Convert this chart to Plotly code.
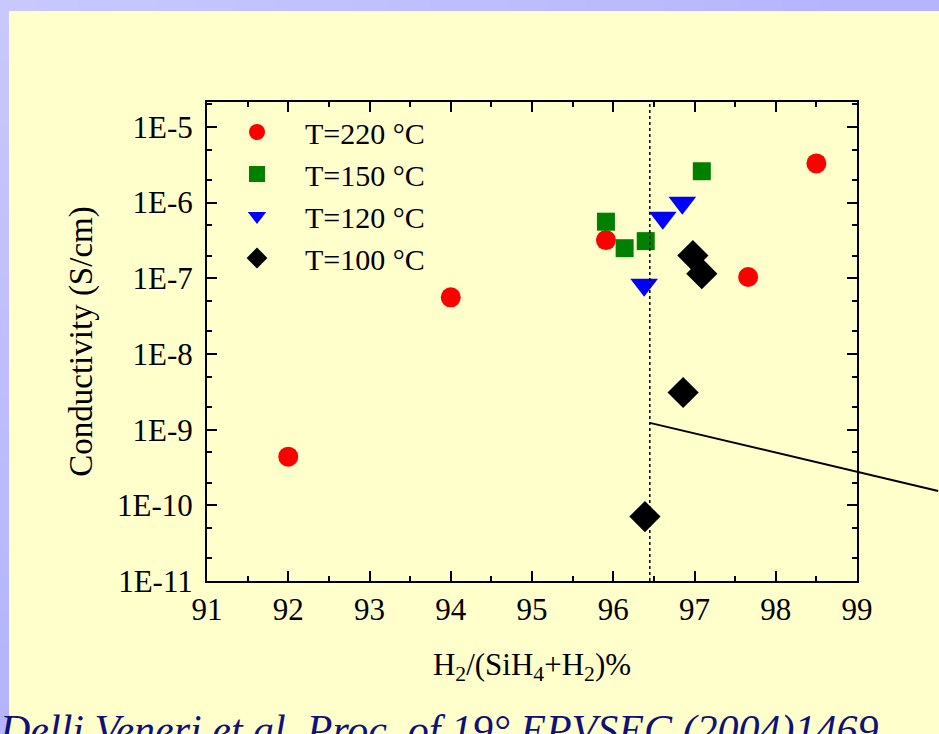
import math
import plotly.graph_objects as go

# H2 dilution (%) and dark conductivity (S/cm) for each deposition temperature
x_220 = [92.0, 94.0, 95.91, 97.66, 98.5]
y_220 = [4.4e-10, 5.6e-8, 3.2e-7, 1.04e-7, 3.3e-6]

x_150 = [95.91, 96.14, 96.4, 97.09]
y_150 = [5.6e-7, 2.5e-7, 3.1e-7, 2.6e-6]

x_120 = [96.38, 96.61, 96.85]
y_120 = [8.2e-8, 6.3e-7, 1.0e-6]

x_100 = [96.39, 96.86, 96.98, 97.09]
y_100 = [7.1e-11, 3.1e-9, 2.0e-7, 1.15e-7]

series_names = ["T=220 °C", "T=150 °C", "T=120 °C", "T=100 °C"]

# amorphous / microcrystalline transition threshold and the pointer line
threshold_x = 96.45
pointer_x = [96.45, 100.0]
pointer_y = [1.23e-9, 1.55e-10]

x_ticks = [91, 92, 93, 94, 95, 96, 97, 98, 99]
y_ticks = [1e-11, 1e-10, 1e-9, 1e-8, 1e-7, 1e-6, 1e-5]
y_tick_text = ["1E-11", "1E-10", "1E-9", "1E-8", "1E-7", "1E-6", "1E-5"]

X_RANGE = [91, 99]
Y_RANGE = [-11, -4.67]

W, H = 939, 734
M_L, M_R, M_T, M_B = 207, 82, 102, 153
PW, PH = W - M_L - M_R, H - M_T - M_B

SERIF = "Liberation Serif, Times New Roman, serif"
BG = "#FFFFCC"


def px_to_paper_x(px):
    return (px - M_L) / PW


def px_to_paper_y(py):
    return (H - M_B - py) / PH


def data_to_paper(xv, yv):
    px = (xv - X_RANGE[0]) / (X_RANGE[1] - X_RANGE[0])
    py = (math.log10(yv) - Y_RANGE[0]) / (Y_RANGE[1] - Y_RANGE[0])
    return px, py


fig = go.Figure()

styles = [
    (x_220, y_220, "circle", "#FF0000", 20),
    (x_150, y_150, "square", "#008000", 18),
    (x_120, y_120, "triangle-down", "#0000FF", 24),
    (x_100, y_100, "diamond", "#000000", 24),
]
for name, (xs, ys, sym, col, size) in zip(series_names, styles):
    fig.add_trace(go.Scatter(
        x=xs, y=ys, mode="markers", name=name,
        marker=dict(symbol=sym, color=col, size=size, line=dict(width=0)),
    ))

shapes = []

# lavender slide frame: top and left bands with a soft gradient
n_seg = 24
for i in range(n_seg):
    t = i / (n_seg - 1)
    r = int(200 - 20 * t)
    g = int(200 - 20 * t)
    shapes.append(dict(
        type="rect", xref="paper", yref="paper", layer="below",
        x0=px_to_paper_x(W * i / n_seg), x1=px_to_paper_x(W * (i + 1) / n_seg + 1),
        y0=px_to_paper_y(11), y1=px_to_paper_y(0),
        fillcolor=f"rgb({r},{g},255)", line=dict(width=0),
    ))
    shapes.append(dict(
        type="rect", xref="paper", yref="paper", layer="below",
        x0=px_to_paper_x(0), x1=px_to_paper_x(9),
        y0=px_to_paper_y(H * (i + 1) / n_seg + 1), y1=px_to_paper_y(H * i / n_seg),
        fillcolor=f"rgb({r},{g},255)", line=dict(width=0),
    ))

# dotted threshold line
shapes.append(dict(
    type="line", xref="x", yref="paper",
    x0=threshold_x, x1=threshold_x, y0=0, y1=1,
    line=dict(color="black", width=1.5, dash="dot"),
))

# pointer line running off the right edge
p0 = data_to_paper(pointer_x[0], pointer_y[0])
p1 = data_to_paper(pointer_x[1], pointer_y[1])
shapes.append(dict(
    type="line", xref="paper", yref="paper",
    x0=p0[0], y0=p0[1], x1=p1[0], y1=p1[1],
    line=dict(color="black", width=2),
))

annotations = [dict(
    text="Delli Veneri et al. Proc. of 19° EPVSEC (2004)1469",
    xref="paper", yref="paper",
    x=px_to_paper_x(-3), y=px_to_paper_y(705),
    xanchor="left", yanchor="top", showarrow=False,
    font=dict(family=SERIF, size=42, color="#10107A", style="italic"),
)]

axis_common = dict(
    showline=True, linecolor="black", linewidth=2, mirror="ticks",
    ticks="inside", ticklen=10, tickwidth=2, tickcolor="black",
    showgrid=False, zeroline=False,
    tickfont=dict(family=SERIF, size=31, color="black"),
)

fig.update_layout(
    width=W, height=H,
    margin=dict(l=M_L, r=M_R, t=M_T, b=M_B, pad=0),
    paper_bgcolor=BG, plot_bgcolor=BG,
    showlegend=True,
    legend=dict(
        x=px_to_paper_x(209), y=px_to_paper_y(106), xanchor="left", yanchor="top",
        bgcolor="rgba(0,0,0,0)", borderwidth=0,
        font=dict(family=SERIF, size=30, color="black"),
        itemwidth=86, tracegroupgap=0,
    ),
    xaxis=dict(
        **axis_common, range=X_RANGE, tickvals=x_ticks,
        minor=dict(ticks="inside", ticklen=5, tickwidth=2, tickcolor="black", dtick=0.5),
        title=dict(text="H<sub>2</sub>/(SiH<sub>4</sub>+H<sub>2</sub>)%",
                   font=dict(family=SERIF, size=31, color="black"), standoff=27),
    ),
    yaxis=dict(
        **axis_common, type="log", range=Y_RANGE,
        tickvals=y_ticks, ticktext=y_tick_text,
        minor=dict(ticks="inside", ticklen=5, tickwidth=2, tickcolor="black"),
        title=dict(text="Conductivity (S/cm)",
                   font=dict(family=SERIF, size=33, color="black"), standoff=14),
        ticklabelstandoff=6,
    ),
    shapes=shapes,
    annotations=annotations,
)

fig.write_html("out.html")
